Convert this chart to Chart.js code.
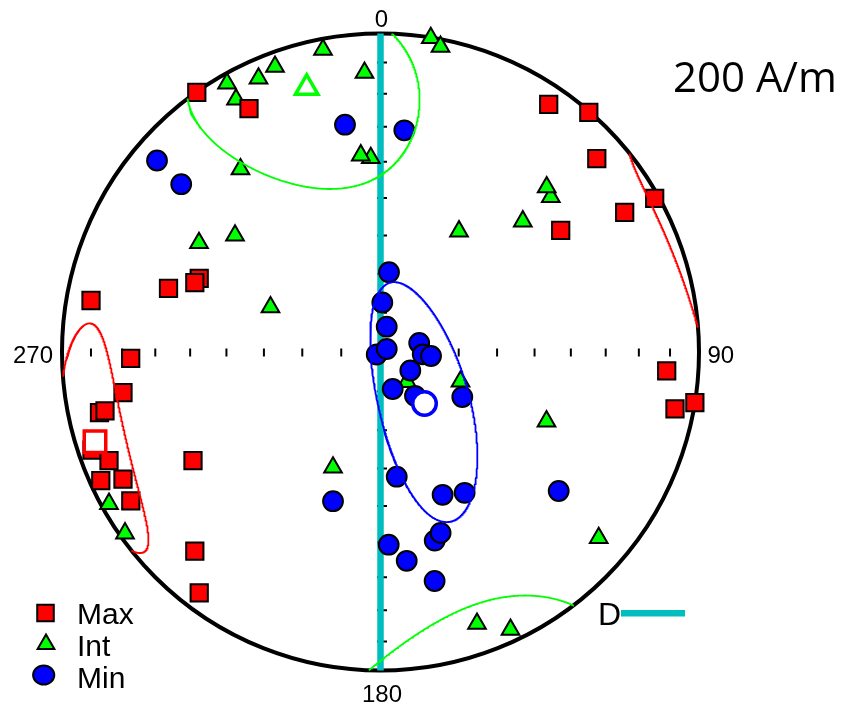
<!DOCTYPE html>
<html>
<head>
<meta charset="utf-8">
<script src="https://cdn.jsdelivr.net/npm/chart.js@4.4.1/dist/chart.umd.min.js"></script>
<style>
  html, body { margin: 0; padding: 0; background: #ffffff; }
  canvas { display: block; }
</style>
</head>
<body>
<canvas id="stereonet" width="844" height="706"></canvas>
<script>
// Principal axes in equal-area lower-hemisphere projection:
// x = east, y = north, 1 = primitive circle.
const maxAxes = [
  [-0.5768, 0.8148], [-0.4129, 0.7645], [0.5281, 0.7777], [0.6540, 0.7520],
  [0.6791, 0.6075], [0.8609, 0.4826], [0.7667, 0.4380], [0.5658, 0.3821],
  [-0.9089, 0.1617], [-0.6656, 0.1994], [-0.5692, 0.2308], [-0.5830, 0.2182],
  [-0.7843, -0.0198], [-0.8085, -0.1275], [-0.8823, -0.1900], [-0.8650, -0.1846],
  [-0.9058, -0.3077], [-0.8524, -0.3410], [-0.5887, -0.3410], [-0.8782, -0.4035],
  [-0.8085, -0.3991], [-0.7840, -0.4672], [-0.5830, -0.6254], [-0.5692, -0.7560],
  [0.8986, -0.0590], [0.9246, -0.1783], [0.9870, -0.1590]
];
const intAxes = [
  [-0.1805, 0.9491], [-0.0502, 0.8769], [-0.3312, 0.8958], [-0.3830, 0.8587],
  [-0.4819, 0.8430], [-0.4537, 0.7928], [-0.0305, 0.6091], [-0.0619, 0.6176],
  [-0.4396, 0.5739], [0.1579, 0.9860], [0.1884, 0.9586], [-0.4568, 0.3658],
  [-0.5699, 0.3422], [-0.3454, 0.1407], [0.5347, 0.4867], [0.5218, 0.5174],
  [0.4468, 0.4104], [0.2465, 0.3790], [0.2512, -0.0926], [0.5212, -0.2176],
  [0.0832, -0.0942], [-0.1491, -0.3626], [-0.8524, -0.4766], [-0.8022, -0.5692],
  [0.6851, -0.5840], [0.3030, -0.8531], [0.4082, -0.8719]
];
const minAxes = [
  [-0.1115, 0.7137], [0.0747, 0.6961], [-0.7017, 0.6013], [-0.6257, 0.5268],
  [0.0267, 0.2505], [0.0057, 0.1554], [0.0195, 0.0794], [-0.0119, -0.0078],
  [0.0195, 0.0094], [0.1215, 0.0283], [0.1325, -0.0072], [0.1586, -0.0126],
  [0.0936, -0.0581], [0.0383, -0.1162], [0.1083, -0.1375], [0.2568, -0.1413],
  [0.0509, -0.3915], [0.1950, -0.4484], [0.2641, -0.4421], [0.1702, -0.5922],
  [0.1887, -0.5680], [0.0257, -0.6050], [0.0823, -0.6556], [0.1699, -0.7190],
  [-0.1491, -0.4684], [0.5595, -0.4364]
];

// Mean directions (same projection)
const meanMax = [-0.8964, -0.2816];
const meanInt = [-0.2317, 0.8295];
const meanMin = [0.1381, -0.1617];

// 95% confidence ellipses: semi-angles (deg) and rotation from the dip direction (deg)
const coneMax = { semiA: 10, semiB: 23, rot: -9 };
const coneInt = { semiA: 32, semiB: 22, rot: 15 };
const coneMin = { semiA: 32, semiB: 11.5, rot: -25.5 };

const seriesNames = ['Max', 'Int', 'Min'];
const directionLabels = ['0', '90', '180', '270'];
const gridAngles = [10, 20, 30, 40, 50, 60, 70, 80];
const fieldLabel = '200 A/m';
const lineLabel = 'D';

const RED = '#ff0000', GREEN = '#00ff00', BLUE = '#0000ff', CYAN = '#00bebe';
const D2R = Math.PI / 180;

// Placement of the primitive circle on the canvas
const NET = { cx: 380.5, cy: 352, r: 318.5, w: 844, h: 706 };

function toSphere(p) {
  const z = 1 - (p[0] * p[0] + p[1] * p[1]);
  const s = Math.sqrt(1 + z);
  return [p[0] * s, p[1] * s, z];
}
function toPlane(v, flip) {
  const k = flip ? -1 : 1;
  const s = Math.sqrt(1 + Math.abs(v[2]));
  return { x: k * v[0] / s, y: k * v[1] / s };
}

// Ellipse on the sphere; parts above the horizon are shown by their antipodes
function ellipseSegments(center, e) {
  const m = toSphere(center);
  const h = Math.hypot(m[0], m[1]);
  const w = [-m[2] * m[0] / h, -m[2] * m[1] / h, h];
  const u = [m[1] / h, -m[0] / h, 0];
  const c = Math.cos(e.rot * D2R), s = Math.sin(e.rot * D2R);
  const ta = Math.tan(e.semiA * D2R), tb = Math.tan(e.semiB * D2R);
  const N = 720;
  const pts = [];
  for (let k = 0; k < N; k++) {
    const t = 2 * Math.PI * k / N;
    const ca = ta * Math.cos(t), sb = tb * Math.sin(t);
    const v = [0, 1, 2].map(i => m[i] + ca * (c * w[i] + s * u[i]) + sb * (-s * w[i] + c * u[i]));
    const n = Math.hypot(v[0], v[1], v[2]);
    pts.push(v.map(q => q / n));
  }
  let start = 0;
  for (let k = 0; k < N; k++) {
    if ((pts[k][2] < 0) !== (pts[(k + 1) % N][2] < 0)) { start = (k + 1) % N; break; }
  }
  const segs = [];
  let cur = [];
  for (let j = 0; j < N; j++) {
    const a = pts[(start + j) % N], b = pts[(start + j + 1) % N];
    const upA = a[2] < 0, upB = b[2] < 0;
    cur.push(toPlane(a, upA));
    if (upA !== upB) {
      const f = a[2] / (a[2] - b[2]);
      const q = [0, 1, 2].map(i => a[i] + f * (b[i] - a[i]));
      q[2] = 0;
      const n = Math.hypot(q[0], q[1]);
      q[0] /= n; q[1] /= n;
      cur.push(toPlane(q, upA));
      segs.push(cur);
      cur = [toPlane(q, upB)];
    }
  }
  if (segs.length) segs[0] = cur.concat(segs[0]);
  else { cur.push(cur[0]); segs.push(cur); }
  return segs;
}

const toXY = arr => arr.map(p => ({ x: p[0], y: p[1] }));

function ellipseDatasets(center, cone, color) {
  return ellipseSegments(center, cone).map(seg => ({
    data: seg,
    showLine: true,
    borderColor: color,
    borderWidth: 1.8,
    pointRadius: 0,
    tension: 0,
    fill: false,
    order: 1
  }));
}

const datasets = [
  // mean directions (open symbols)
  { label: 'Max mean', data: toXY([meanMax]), pointStyle: 'rect', pointRadius: 15.2,
    pointBackgroundColor: '#ffffff', pointBorderColor: RED, pointBorderWidth: 3.5, order: 0 },
  { label: 'Int mean', data: toXY([meanInt]), pointStyle: 'triangle', pointRadius: 13,
    pointBackgroundColor: '#ffffff', pointBorderColor: GREEN, pointBorderWidth: 3.5, order: 0 },
  { label: 'Min mean', data: toXY([meanMin]), pointStyle: 'circle', pointRadius: 11.8,
    pointBackgroundColor: '#ffffff', pointBorderColor: BLUE, pointBorderWidth: 3.5, order: 0 },
  ...ellipseDatasets(meanMax, coneMax, RED),
  ...ellipseDatasets(meanInt, coneInt, GREEN),
  ...ellipseDatasets(meanMin, coneMin, BLUE),
  { label: seriesNames[2], data: toXY(minAxes), pointStyle: 'circle', pointRadius: 9.9,
    pointBackgroundColor: BLUE, pointBorderColor: '#000000', pointBorderWidth: 2, order: 2 },
  { label: seriesNames[0], data: toXY(maxAxes), pointStyle: 'rect', pointRadius: 12.2,
    pointBackgroundColor: RED, pointBorderColor: '#000000', pointBorderWidth: 2, order: 3 },
  { label: seriesNames[1], data: toXY(intAxes), pointStyle: 'triangle', pointRadius: 10.2,
    pointBackgroundColor: GREEN, pointBorderColor: '#000000', pointBorderWidth: 2, order: 4 },
  // D line through the net (0 - 180)
  { label: lineLabel, data: [{ x: 0, y: 1 }, { x: 0, y: -1 }], showLine: true,
    borderColor: CYAN, borderWidth: 6.5, pointRadius: 0, order: 5 }
];

// Primitive circle and equal-area graduation ticks
const framePlugin = {
  id: 'frame',
  beforeDatasetsDraw(chart) {
    const { ctx, scales: { x, y } } = chart;
    const cx = x.getPixelForValue(0), cy = y.getPixelForValue(0);
    const R = x.getPixelForValue(1) - cx;
    ctx.save();
    ctx.strokeStyle = '#000000';
    ctx.lineWidth = 4;
    ctx.beginPath();
    ctx.arc(cx, cy, R, 0, 2 * Math.PI);
    ctx.stroke();
    ctx.lineWidth = 2;
    ctx.beginPath();
    gridAngles.forEach(a => {
      const d = Math.SQRT2 * Math.sin(a * D2R / 2) * R;
      [-1, 1].forEach(sg => {
        ctx.moveTo(cx + sg * d, cy - 3.5);
        ctx.lineTo(cx + sg * d, cy + 4.5);
        ctx.moveTo(cx - 3.5, cy + sg * d);
        ctx.lineTo(cx + 6.5, cy + sg * d);
      });
    });
    ctx.stroke();
    ctx.restore();
  }
};

function drawMarker(ctx, style, px, py, r, fill) {
  ctx.beginPath();
  if (style === 'rect') {
    const s = r * Math.SQRT1_2;
    ctx.rect(px - s, py - s, 2 * s, 2 * s);
  } else if (style === 'triangle') {
    ctx.moveTo(px, py - r);
    ctx.lineTo(px + r * Math.sin(2 * Math.PI / 3), py - r * Math.cos(2 * Math.PI / 3));
    ctx.lineTo(px + r * Math.sin(4 * Math.PI / 3), py - r * Math.cos(4 * Math.PI / 3));
    ctx.closePath();
  } else {
    ctx.ellipse(px, py, r * 1.08, r * 0.98, 0, 0, 2 * Math.PI);
  }
  ctx.fillStyle = fill;
  ctx.fill();
  ctx.lineWidth = 2;
  ctx.strokeStyle = '#000000';
  ctx.stroke();
}

// Direction labels, field label and key
const textPlugin = {
  id: 'texts',
  afterDraw(chart) {
    const { ctx, scales: { x, y } } = chart;
    const cx = x.getPixelForValue(0), cy = y.getPixelForValue(0);
    const R = x.getPixelForValue(1) - cx;
    ctx.save();
    ctx.fillStyle = '#000000';
    ctx.textBaseline = 'alphabetic';
    ctx.font = '24px "Liberation Sans", Arial, sans-serif';
    ctx.textAlign = 'center';
    ctx.fillText(directionLabels[0], cx + 1, cy - R - 6.5);
    ctx.fillText(directionLabels[2], cx + 1.5, cy + R + 31.5);
    ctx.textAlign = 'left';
    ctx.fillText(directionLabels[1], cx + R + 8.5, cy + 11);
    ctx.textAlign = 'right';
    ctx.fillText(directionLabels[3], cx - R - 9, cy + 11);

    ctx.textAlign = 'left';
    ctx.font = '42px "Open Sans", sans-serif';
    ctx.fillText(fieldLabel, 673, 92);

    // key
    drawMarker(ctx, 'rect', 45.5, 613, 11.7, RED);
    drawMarker(ctx, 'triangle', 46, 644.2, 9.7, GREEN);
    drawMarker(ctx, 'circle', 43.7, 675, 9.8, BLUE);
    ctx.fillStyle = '#000000';
    ctx.font = '30px "Liberation Sans", Arial, sans-serif';
    ctx.fillText(seriesNames[0], 77, 624);
    ctx.fillText(seriesNames[1], 77, 656);
    ctx.fillText(seriesNames[2], 77, 688);

    ctx.font = '32px "Liberation Sans", Arial, sans-serif';
    ctx.fillText(lineLabel, 598, 625);
    ctx.strokeStyle = CYAN;
    ctx.lineWidth = 6.5;
    ctx.beginPath();
    ctx.moveTo(621, 613.3);
    ctx.lineTo(685, 613.3);
    ctx.stroke();
    ctx.restore();
  }
};

new Chart(document.getElementById('stereonet'), {
  type: 'scatter',
  data: { datasets },
  options: {
    responsive: false,
    animation: false,
    devicePixelRatio: 1,
    events: [],
    layout: { padding: 0, autoPadding: false },
    plugins: { legend: { display: false }, tooltip: { enabled: false } },
    scales: {
      x: { type: 'linear', display: false,
           min: -NET.cx / NET.r, max: (NET.w - NET.cx) / NET.r },
      y: { type: 'linear', display: false,
           min: -(NET.h - NET.cy) / NET.r, max: NET.cy / NET.r }
    }
  },
  plugins: [framePlugin, textPlugin]
});
</script>
</body>
</html>
